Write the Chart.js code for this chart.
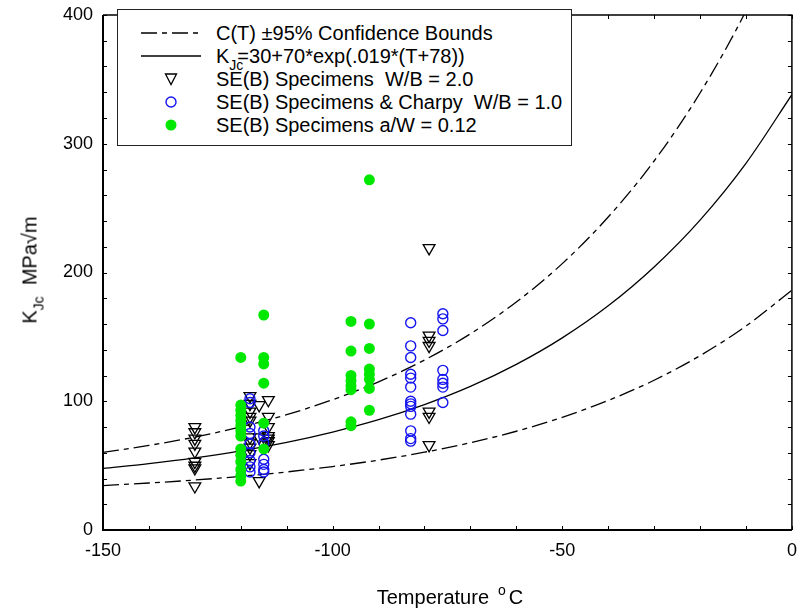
<!DOCTYPE html>
<html>
<head>
<meta charset="utf-8">
<script src="https://cdn.jsdelivr.net/npm/chart.js@4/dist/chart.umd.min.js"></script>
<style>
  html, body { margin: 0; padding: 0; background: #fff; overflow: hidden; }
  body { width: 797px; height: 609px; position: relative; font-family: "Liberation Sans", Arial, sans-serif; color: #000; }
  #wrap { position: absolute; left: 0; top: 0; width: 800px; height: 609px; }
  .ytitle { position: absolute; left: 30px; top: 270px; transform: translate(-50%, -50%) rotate(-90deg); white-space: nowrap; font-size: 20px; }
  .xtitle { position: absolute; left: 450px; top: 597px; transform: translate(-50%, -50%); white-space: nowrap; font-size: 20px; }
  .sub { font-size: 14px; position: relative; top: 7px; }
  .sup { font-size: 14px; position: relative; top: -9px; margin: 0 3px 0 9px; }
  #legend { position: absolute; left: 117px; top: 9px; width: 453px; height: 135px; border: 1.5px solid #222; background: #fff; }
  .row { position: absolute; left: 0; height: 22px; white-space: nowrap; font-size: 20px; line-height: 22px; }
  .row svg { position: absolute; left: 21px; top: 0; }
  .row span.t { position: absolute; left: 98px; top: 0; }
</style>
</head>
<body>
<div id="wrap"><canvas id="c" width="800" height="609"></canvas></div>
<div class="ytitle">K<span class="sub">Jc</span>&nbsp; MPa√m</div>
<div class="xtitle">Temperature<span class="sup">o</span>C</div>
<div id="legend">
  <div class="row" style="top:12px"><svg width="64" height="22"><line x1="2" y1="11" x2="62" y2="11" stroke="#000" stroke-width="1.3" stroke-dasharray="16,5,5,5"/></svg><span class="t">C(T) ±95% Confidence Bounds</span></div>
  <div class="row" style="top:35px"><svg width="64" height="22"><line x1="2" y1="11" x2="62" y2="11" stroke="#000" stroke-width="1.3"/></svg><span class="t">K<span class="sub" style="margin-right:-6px">Jc</span>=30+70*exp(.019*(T+78))</span></div>
  <div class="row" style="top:58px"><svg width="64" height="22"><polygon points="26.5,6 37.5,6 32,16.5" fill="none" stroke="#000" stroke-width="1.3"/></svg><span class="t">SE(B) Specimens&nbsp; W/B = 2.0</span></div>
  <div class="row" style="top:81px"><svg width="64" height="22"><circle cx="32" cy="11" r="5" fill="none" stroke="#1414f0" stroke-width="1.4"/></svg><span class="t">SE(B) Specimens &amp; Charpy&nbsp; W/B = 1.0</span></div>
  <div class="row" style="top:104px"><svg width="64" height="22"><circle cx="32" cy="11" r="5.5" fill="#00e800"/></svg><span class="t">SE(B) Specimens a/W = 0.12</span></div>
</div>
<script>
// curves every 10 °C
const curveTemps = [-150, -140, -130, -120, -110, -100, -90, -80, -70, -60, -50, -40, -30, -20, -10, 0];
const medianKjc  = [47.8, 51.6, 56.1, 61.5, 68.1, 76.1, 85.7, 97.4, 111.5, 128.6, 149.2, 174.1, 204.3, 240.7, 284.8, 338.1];
const upperKjc   = [60.3, 65.7, 72.2, 80.1, 89.6, 101.2, 115.1, 132.0, 152.4, 177.1, 206.9, 243.1, 286.6, 339.4, 403.2, 480.4];
const lowerKjc   = [34.5, 36.5, 38.8, 41.7, 45.1, 49.3, 54.3, 60.4, 67.8, 76.7, 87.5, 100.6, 116.3, 135.4, 158.4, 186.3];

// SE(B) W/B = 2.0 (triangles)
const seTemps = [-130, -118, -116, -114, -79];
const seKjc = [
  [80, 76, 71, 67, 61, 53, 50, 48, 34],
  [104, 98, 92, 88, 85, 72, 68, 64, 59, 52],
  [97, 72, 38],
  [101, 88, 80, 73, 71, 69, 66],
  [219, 151, 147, 143, 92, 88, 66],
];

// SE(B) & Charpy W/B = 1.0 (open circles)
const charpyTemps = [-118, -115, -83, -76];
const charpyKjc = [
  [102, 99, 80, 75, 67, 60, 54, 49, 45],
  [77, 73, 68, 55, 51, 47, 45],
  [161, 143, 134, 121, 118, 111, 100, 98, 96, 90, 77, 71, 69],
  [168, 164, 155, 124, 117, 114, 111, 99],
];

// SE(B) a/W = 0.12 (filled)
const shallowTemps = [-120, -115, -96, -92];
const shallowKjc = [
  [134, 97, 93, 89, 85, 81, 77, 73, 63, 58, 53, 47, 42, 38],
  [167, 134, 129, 114, 83, 63],
  [162, 139, 120, 116, 112, 109, 84, 81],
  [272, 160, 141, 125, 121, 117, 110, 93],
];

const xTicks = [-150, -100, -50, 0];
const yTicks = [0, 100, 200, 300, 400];

const toPts = (temps, vals) => temps.flatMap((t, i) => vals[i].map(v => ({ x: t, y: v })));
const curve = vals => curveTemps.map((t, i) => ({ x: t, y: vals[i] }));

const frame = {
  id: 'frame',
  afterDatasetsDraw(chart) {
    const { ctx, chartArea: a, scales: { x, y } } = chart;
    ctx.save();
    ctx.strokeStyle = '#000';
    ctx.lineWidth = 1.5;
    ctx.beginPath();
    ctx.moveTo(a.left, a.top); ctx.lineTo(a.right, a.top); ctx.lineTo(a.right, a.bottom);
    ctx.stroke();
    ctx.lineWidth = 2;
    ctx.beginPath();
    ctx.moveTo(a.left, a.top); ctx.lineTo(a.left, a.bottom); ctx.lineTo(a.right, a.bottom);
    ctx.stroke();
    ctx.lineWidth = 1;
    ctx.beginPath();
    x.ticks.forEach(t => {
      const px = Math.round(x.getPixelForValue(t.value)) + 0.5;
      ctx.moveTo(px, a.bottom); ctx.lineTo(px, a.bottom - 4);
      ctx.moveTo(px, a.top); ctx.lineTo(px, a.top + 4);
    });
    y.ticks.forEach(t => {
      const py = Math.round(y.getPixelForValue(t.value)) + 0.5;
      ctx.moveTo(a.left, py); ctx.lineTo(a.left + 4, py);
      ctx.moveTo(a.right, py); ctx.lineTo(a.right - 4, py);
    });
    ctx.stroke();
    ctx.restore();
  }
};

const lineStyle = { showLine: true, pointRadius: 0, borderColor: '#000', borderWidth: 1.3, cubicInterpolationMode: 'monotone', fill: false };

new Chart(document.getElementById('c'), {
  type: 'scatter',
  data: {
    datasets: [
      { label: 'a/W = 0.12', data: toPts(shallowTemps, shallowKjc), pointStyle: 'circle', pointRadius: 5.5,
        backgroundColor: '#00e800', borderColor: '#00e800', borderWidth: 0 },
      { label: 'Charpy W/B = 1.0', data: toPts(charpyTemps, charpyKjc), pointStyle: 'circle', pointRadius: 5,
        backgroundColor: 'rgba(0,0,0,0)', borderColor: '#1414f0', borderWidth: 1.4 },
      { label: 'W/B = 2.0', data: toPts(seTemps, seKjc), pointStyle: 'triangle', pointRadius: 6.8, rotation: 180,
        backgroundColor: 'rgba(0,0,0,0)', borderColor: '#000', borderWidth: 1.3 },
      { label: 'median', data: curve(medianKjc), ...lineStyle },
      { label: 'upper', data: curve(upperKjc), ...lineStyle, borderDash: [16, 5, 5, 5] },
      { label: 'lower', data: curve(lowerKjc), ...lineStyle, borderDash: [16, 5, 5, 5] },
    ]
  },
  options: {
    responsive: false,
    animation: false,
    layout: { padding: { left: 0, right: 2, top: 15, bottom: 0 } },
    plugins: { legend: { display: false }, tooltip: { enabled: false } },
    scales: {
      x: {
        type: 'linear', min: -150, max: 0,
        grid: { display: false, drawTicks: false },
        border: { display: false },
        ticks: {
          stepSize: 10, color: '#000', padding: 10, maxRotation: 0, autoSkip: false,
          font: { family: 'Liberation Sans', size: 18 },
          callback: v => (xTicks.includes(v) ? String(v) : ''),
        },
        afterFit(s) { s.height = 79; s.paddingLeft = 0; s.paddingRight = 0; },
      },
      y: {
        type: 'linear', min: 0, max: 400,
        grid: { display: false, drawTicks: false },
        border: { display: false },
        ticks: {
          stepSize: 20, color: '#000', padding: 10, autoSkip: false,
          font: { family: 'Liberation Sans', size: 18 },
          callback: v => (yTicks.includes(v) ? String(v) : ''),
        },
        afterFit(s) { s.width = 103; s.paddingTop = 0; s.paddingBottom = 0; },
      },
    },
  },
  plugins: [frame],
});
</script>
</body>
</html>
